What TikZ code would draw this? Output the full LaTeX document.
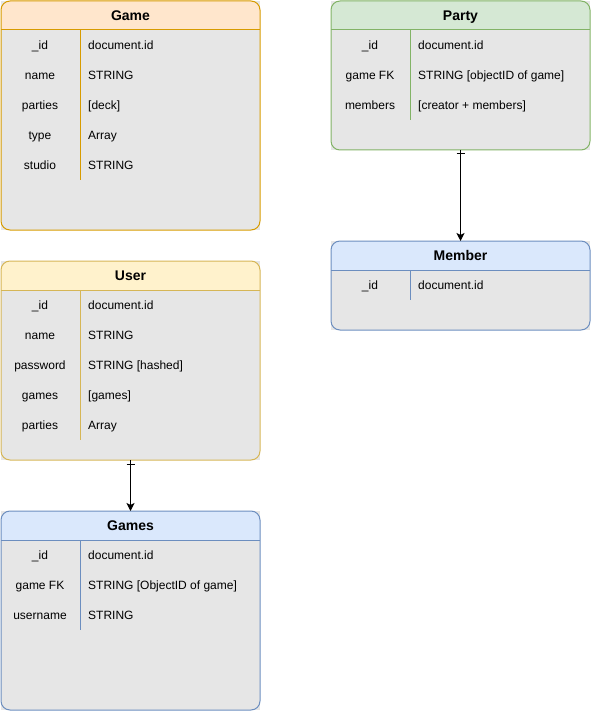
\documentclass[tikz,border=0pt]{standalone}
\usepackage{fontspec}
\setmainfont{Liberation Sans}
\usetikzlibrary{arrows.meta}
\definecolor{bodygray}{HTML}{E6E6E6}
\definecolor{orangefill}{HTML}{FFE6CC}
\definecolor{orangeline}{HTML}{D79B00}
\definecolor{yellowfill}{HTML}{FFF2CC}
\definecolor{yellowline}{HTML}{D6B656}
\definecolor{greenfill}{HTML}{D5E8D4}
\definecolor{greenline}{HTML}{82B366}
\definecolor{bluefill}{HTML}{DAE8FC}
\definecolor{blueline}{HTML}{6C8EBF}
\tikzset{
  tblbox/.style={rectangle, anchor=north west, minimum width=259pt, inner sep=0pt, outer sep=0pt},
  tbltitle/.style={font=\bfseries\fontsize{14}{16}\selectfont},
  keytxt/.style={font=\fontsize{12}{14}\selectfont, anchor=mid, inner sep=0pt},
  valtxt/.style={font=\fontsize{12}{14}\selectfont, anchor=mid west, inner sep=0pt},
  link/.style={line width=1pt, -{Stealth[length=8pt,width=8pt,inset=2pt]}}
}
% name, x, y, height, head fill, line colour, title, rows, key/value list
\newcommand{\ertable}[9]{%
  \node[tblbox, fill=bodygray, minimum height=#4] (#1) at (#2,#3) {};
  \begin{scope}
    \clip (#1.north west) rectangle ([yshift=-29pt]#1.north east);
    \fill[#5, rounded corners=9pt] (#1.north west) rectangle (#1.south east);
  \end{scope}
  \draw[#6, line width=1pt, rounded corners=9pt] (#1.north west) rectangle (#1.south east);
  \draw[#6, line width=1pt] ([yshift=-29pt]#1.north west) -- ([yshift=-29pt]#1.north east);
  \node[tbltitle, anchor=mid] (#1-title) at ([yshift=-16.5pt]#1.north) {#7};
  \foreach [count=\i, evaluate=\i as \dy using 45.5+30*(\i-1)] \k/\v in {#9}{
    \node[keytxt] (#1-key\i) at ([xshift=39pt,yshift=-\dy pt]#1.north west) {\k};
    \node[valtxt] (#1-val\i) at ([xshift=87pt,yshift=-\dy pt]#1.north west) {\v};
  }
  \draw[#6, line width=1pt] ([xshift=79pt,yshift=-29pt]#1.north west) -- ++(0,-30*#8);
}

\begin{document}
\begin{tikzpicture}[x=1pt,y=1pt]
  \useasboundingbox (0,0) rectangle (591,-711);

  \ertable{game}{1}{-1}{229pt}{orangefill}{orangeline}{Game}{5}%
    {\_id/document.id, name/STRING, parties/{[deck]}, type/Array, studio/STRING}
  \ertable{user}{1}{-261}{199pt}{yellowfill}{yellowline}{User}{5}%
    {\_id/document.id, name/STRING, password/{STRING [hashed]}, games/{[games]}, parties/Array}
  \ertable{games}{1}{-511}{199pt}{bluefill}{blueline}{Games}{3}%
    {\_id/document.id, game FK/{STRING [ObjectID of game]}, username/STRING}
  \ertable{party}{331}{-1}{149pt}{greenfill}{greenline}{Party}{3}%
    {\_id/document.id, game FK/{STRING [objectID of game]}, members/{[creator + members]}}
  \ertable{member}{331}{-241}{89pt}{bluefill}{blueline}{Member}{1}%
    {\_id/document.id}

  % one-to-many links
  \draw[link] (user) -- (games);
  \draw[line width=1pt] ([yshift=-4pt]user.south) +(-4pt,0) -- +(4pt,0);
  \draw[link] (party) -- (member);
  \draw[line width=1pt] ([yshift=-4pt]party.south) +(-4pt,0) -- +(4pt,0);
\end{tikzpicture}
\end{document}
